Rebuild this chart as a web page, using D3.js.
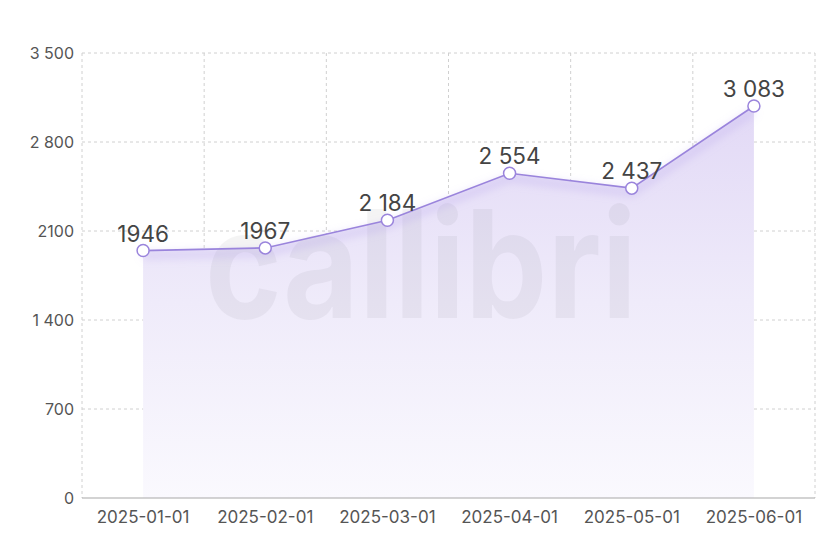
<!DOCTYPE html>
<html><head><meta charset="utf-8">
<script src="https://cdn.jsdelivr.net/npm/d3@7"></script>
<style>
html,body{margin:0;padding:0;background:#fff;}
svg{display:block;font-family:Inter, "Noto Sans", sans-serif;}
</style></head>
<body><svg id="c" width="840" height="560"></svg>
<script>
const categories = ["2025-01-01","2025-02-01","2025-03-01","2025-04-01","2025-05-01","2025-06-01"];
const values = [1946, 1967, 2184, 2554, 2437, 3083];
const valueLabels = ["1946","1967","2 184","2 554","2 437","3 083"];
const yTicks = [0, 700, 1400, 2100, 2800, 3500];
const yTickLabels = ["0","700","1 400","2100","2 800","3 500"];
const watermark = "callibri";

const svg = d3.select("#c");
const m = {l:82, r:815, t:53, b:498};
const x = d3.scaleBand().domain(categories).range([m.l, m.r]).padding(0);
const y = d3.scaleLinear().domain([0, 3500]).range([m.b, m.t]);
const cx = d => x(d) + x.bandwidth()/2;

const defs = svg.append("defs");
const grad = defs.append("linearGradient").attr("id","ag")
  .attr("gradientUnits","userSpaceOnUse").attr("x1",0).attr("x2",0)
  .attr("y1", y(d3.max(values))).attr("y2", y(0));
grad.append("stop").attr("offset",0).attr("stop-color","#e2d9f6");
grad.append("stop").attr("offset",0.5).attr("stop-color","#efebfa");
grad.append("stop").attr("offset",1).attr("stop-color","#faf9fe");
const f = defs.append("filter").attr("id","glow").attr("x","-10%").attr("y","-30%").attr("width","120%").attr("height","160%");
f.append("feGaussianBlur").attr("stdDeviation",4);

// grid
const g = svg.append("g");
g.selectAll("line.h").data(yTicks.filter(v=>v>0)).join("line")
  .attr("x1", m.l).attr("x2", m.r).attr("y1", d=>y(d)).attr("y2", d=>y(d))
  .attr("stroke","#d0d0d0").attr("stroke-dasharray","3,3");
const vx = categories.map(c=>x(c)).concat([x(categories[categories.length-1])+x.bandwidth()]);
g.selectAll("line.v").data(vx).join("line")
  .attr("x1", d=>d).attr("x2", d=>d).attr("y1", m.t).attr("y2", m.b)
  .attr("stroke","#d0d0d0").attr("stroke-dasharray","3,3");

// area
const data = categories.map((c,i)=>({c, v:values[i], l:valueLabels[i]}));
svg.append("path").datum(data)
  .attr("d", d3.area().x(d=>cx(d.c)).y0(y(0)).y1(d=>y(d.v)))
  .attr("fill","url(#ag)");

// watermark
svg.append("text").attr("x", 205).attr("y", 318)
  .attr("font-size", 150).attr("font-weight", 700)
  .attr("textLength", 432).attr("lengthAdjust","spacingAndGlyphs")
  .attr("fill","#000").attr("fill-opacity",0.045)
  .text(watermark);

// glow under line
svg.append("path").datum(data)
  .attr("d", d3.line().x(d=>cx(d.c)).y(d=>y(d.v)+5))
  .attr("fill","none").attr("stroke","#b7a5ea").attr("stroke-width",6)
  .attr("stroke-opacity",0.4).attr("filter","url(#glow)");

// line
svg.append("path").datum(data)
  .attr("d", d3.line().x(d=>cx(d.c)).y(d=>y(d.v)))
  .attr("fill","none").attr("stroke","#9a84dc").attr("stroke-width",1.6);

// x axis line
svg.append("line").attr("x1", m.l).attr("x2", m.r).attr("y1", m.b).attr("y2", m.b)
  .attr("stroke","#a8a8a8").attr("stroke-width",1.2);

// points
svg.selectAll("circle.p").data(data).join("circle")
  .attr("cx", d=>cx(d.c)).attr("cy", d=>y(d.v)).attr("r",6)
  .attr("fill","#fff").attr("stroke","#9a84dc").attr("stroke-width",1.5);

// value labels
svg.selectAll("text.v").data(data).join("text")
  .attr("x", d=>cx(d.c)).attr("y", d=>y(d.v)-9)
  .attr("text-anchor","middle").attr("font-size",22.5).attr("fill","#444")
  .text(d=>d.l);

// y tick labels
svg.selectAll("text.yt").data(yTicks).join("text")
  .attr("x", 74).attr("y", d=>y(d)).attr("dy","0.35em")
  .attr("text-anchor","end").attr("font-size",16).attr("fill","#555")
  .text((d,i)=>yTickLabels[i]);

// x tick labels
svg.selectAll("text.xt").data(categories).join("text")
  .attr("x", d=>cx(d)).attr("y", 523)
  .attr("text-anchor","middle").attr("font-size",17).attr("fill","#555")
  .text(d=>d);
</script></body></html>
